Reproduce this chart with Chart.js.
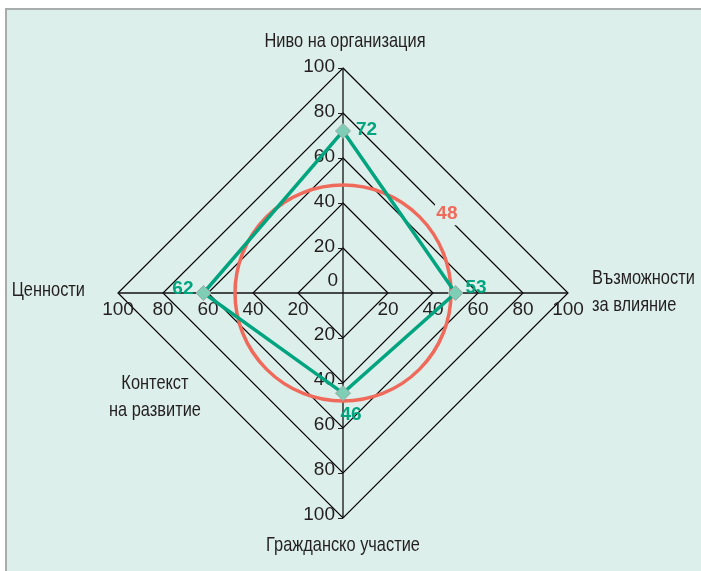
<!DOCTYPE html>
<html>
<head>
<meta charset="utf-8">
<script src="https://cdn.jsdelivr.net/npm/chart.js@4.4.0/dist/chart.umd.min.js"></script>
<style>
  html, body { margin: 0; padding: 0; background: #ffffff; }
  canvas { display: block; }
</style>
</head>
<body>
<canvas id="radar" width="701" height="571"></canvas>
<script>
// оси по часовниковата стрелка, започвайки отгоре
const categories = ['Ниво на организация', ['Възможности', 'за влияние'], 'Гражданско участие', 'Ценности'];
// позиции на маркерите, както са на картината
const seriesValues = [72, 50, 44.5, 62];
// надписите до маркерите
const seriesLabels = ['72', '53', '46', '62'];
const circleValue = 48;
const circleLabel = '48';
const tickLabels = [0, 20, 40, 60, 80, 100];
const extraLabel = ['Контекст', 'на развитие'];

const GREEN = '#00a47f';
const RED = '#f06a5c';
const MINT = '#ddefea';
const INK = '#231f20';
const LABEL_FONT = '21px "Liberation Sans", Arial, sans-serif';
const TICK_FONT = '19px "Liberation Sans", Arial, sans-serif';
const VALUE_FONT = 'bold 19px "Liberation Sans", Arial, sans-serif';
// стеснен шрифт (като condensed)
const NARROW = 0.78;

// точка под ъгъл (от върха, по часовниковата) на дадено разстояние от центъра
function polar(scale, deg, dist) {
    const a = deg * Math.PI / 180;
    return { x: scale.xCenter + dist * Math.sin(a), y: scale.yCenter - dist * Math.cos(a) };
}

function narrowText(ctx, text, x, y, align) {
    const w = ctx.measureText(text).width * NARROW;
    const left = align === 'left' ? x : align === 'right' ? x - w : x - w / 2;
    ctx.save();
    ctx.translate(left, y);
    ctx.scale(NARROW, 1);
    ctx.textAlign = 'left';
    ctx.textBaseline = 'middle';
    ctx.fillText(text, 0, 0);
    ctx.restore();
}

const decorations = {
    id: 'decorations',
    beforeDraw(chart) {
        const ctx = chart.ctx;
        const w = chart.width, h = chart.height;
        ctx.save();
        ctx.fillStyle = '#ffffff';
        ctx.fillRect(0, 0, w, h);
        ctx.fillStyle = MINT;
        ctx.fillRect(6, 9, w - 6, h - 9);
        ctx.fillStyle = '#a8adab';
        ctx.fillRect(5, 8, w - 5, 2);
        ctx.fillRect(5, 8, 2, h - 8);
        ctx.restore();
    },
    beforeDatasetsDraw(chart) {
        const ctx = chart.ctx;
        const r = chart.scales.r;
        ctx.save();
        // кръгът
        const rad = r.getDistanceFromCenterForValue(circleValue);
        ctx.beginPath();
        ctx.arc(r.xCenter, r.yCenter, rad, 0, Math.PI * 2);
        ctx.strokeStyle = RED;
        ctx.lineWidth = 3.5;
        ctx.stroke();
        // надпис на кръга
        const lp = polar(r, 52.5, rad + 23);
        ctx.fillStyle = MINT;
        ctx.fillRect(lp.x - 12, lp.y - 12, 24, 24);
        ctx.font = VALUE_FONT;
        ctx.fillStyle = RED;
        ctx.textAlign = 'center';
        ctx.textBaseline = 'middle';
        ctx.fillText(circleLabel, lp.x, lp.y + 1);

        // деления по четирите оси
        ctx.font = TICK_FONT;
        ctx.fillStyle = INK;
        ctx.strokeStyle = INK;
        ctx.lineWidth = 1;
        for (let i = 0; i < categories.length; i++) {
            for (const v of tickLabels) {
                if (v === 0 && i !== 0) continue;
                const p = r.getPointPositionForValue(i, v);
                if (i === 0 || i === 2) {
                    ctx.textAlign = 'right';
                    ctx.textBaseline = 'middle';
                    if (v === 0) {
                        ctx.fillText(String(v), p.x - 5, p.y - 12);
                    } else {
                        ctx.fillText(String(v), p.x - 8, p.y - (i === 2 ? 3 : 1));
                        ctx.beginPath();
                        ctx.moveTo(p.x - 5, p.y + 0.5);
                        ctx.lineTo(p.x, p.y + 0.5);
                        ctx.stroke();
                    }
                } else {
                    ctx.textAlign = 'center';
                    ctx.textBaseline = 'middle';
                    ctx.fillText(String(v), p.x, p.y + 17);
                }
            }
        }
        ctx.restore();
    },
    afterDatasetsDraw(chart) {
        const ctx = chart.ctx;
        const r = chart.scales.r;
        const outer = r.getDistanceFromCenterForValue(100);
        ctx.save();
        // стойности до маркерите
        ctx.font = VALUE_FONT;
        ctx.fillStyle = GREEN;
        ctx.textBaseline = 'middle';
        const offsets = [
            { dx: 13, dy: -1, align: 'left' },
            { dx: 10, dy: -5, align: 'left' },
            { dx: 8, dy: 22, align: 'center' },
            { dx: -10, dy: -4, align: 'right' }
        ];
        seriesValues.forEach((v, i) => {
            const p = r.getPointPositionForValue(i, v);
            ctx.textAlign = offsets[i].align;
            ctx.fillText(seriesLabels[i], p.x + offsets[i].dx, p.y + offsets[i].dy);
        });

        // имена на осите
        ctx.font = LABEL_FONT;
        ctx.fillStyle = INK;
        let p = r.getPointPosition(0, outer + 27);
        narrowText(ctx, categories[0], p.x + 2, p.y, 'center');
        p = r.getPointPosition(1, outer + 24);
        narrowText(ctx, categories[1][0], p.x, p.y - 15, 'left');
        narrowText(ctx, categories[1][1], p.x, p.y + 12, 'left');
        p = r.getPointPosition(2, outer + 27);
        narrowText(ctx, categories[2], p.x, p.y, 'center');
        p = r.getPointPosition(3, outer + 33);
        narrowText(ctx, categories[3], p.x, p.y - 3, 'right');

        // допълнителен надпис долу вляво
        const ep = polar(r, 241, 215);
        narrowText(ctx, extraLabel[0], ep.x, ep.y - 14, 'center');
        narrowText(ctx, extraLabel[1], ep.x, ep.y + 13, 'center');
        ctx.restore();
    }
};

new Chart(document.getElementById('radar'), {
    type: 'radar',
    data: {
        labels: categories,
        datasets: [{
            data: seriesValues,
            borderColor: GREEN,
            borderWidth: 3.5,
            backgroundColor: 'transparent',
            fill: false,
            pointStyle: 'rectRot',
            pointRadius: 7.5,
            pointBackgroundColor: '#7ecdb5',
            pointBorderColor: '#9aa8a4',
            pointBorderWidth: 1
        }]
    },
    options: {
        responsive: false,
        animation: false,
        devicePixelRatio: 1,
        layout: { padding: { left: 118, right: 133, top: 68, bottom: 53 } },
        elements: { line: { tension: 0 } },
        plugins: {
            legend: { display: false },
            tooltip: { enabled: false }
        },
        scales: {
            r: {
                min: 0,
                max: 100,
                startAngle: 0,
                ticks: { display: false, stepSize: 20 },
                pointLabels: { display: false },
                grid: { color: '#000000', lineWidth: 1.2 },
                angleLines: { color: '#111111', lineWidth: 1.3 }
            }
        }
    },
    plugins: [decorations]
});
</script>
</body>
</html>
